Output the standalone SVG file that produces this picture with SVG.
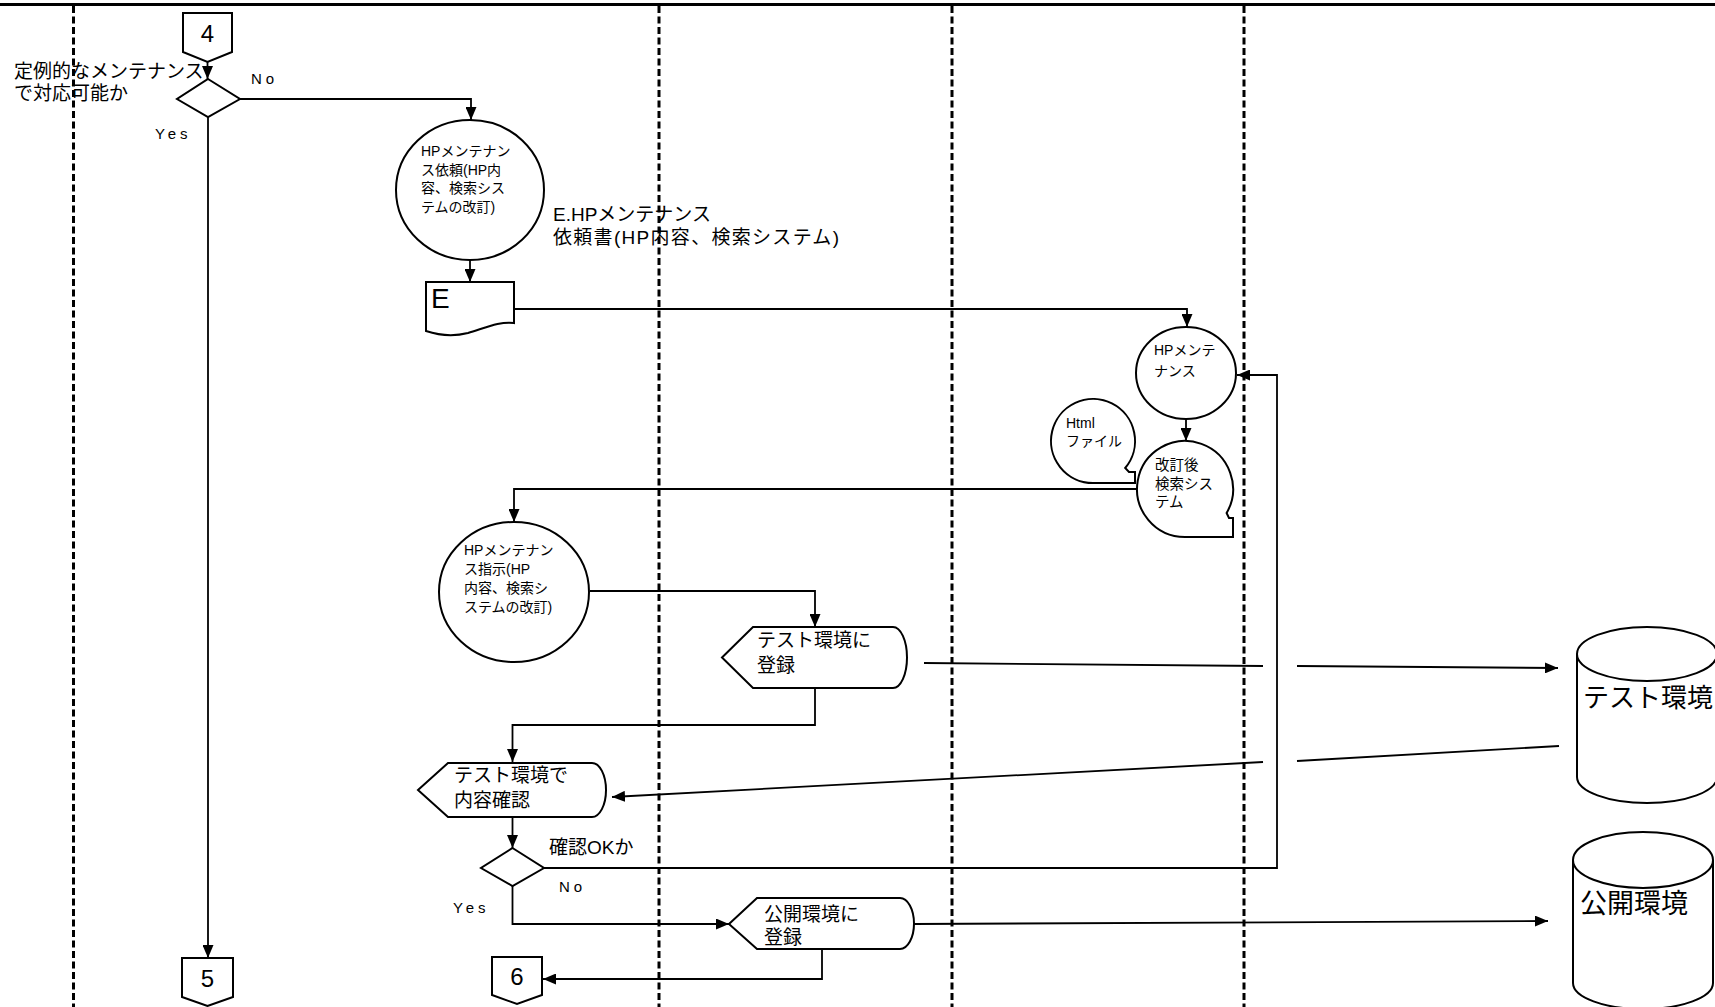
<svg xmlns="http://www.w3.org/2000/svg" width="1715" height="1007" viewBox="0 0 1715 1007">
<style>
.t{font-family:"Liberation Sans","Noto Sans CJK JP",sans-serif;fill:#000}
.s{fill:#fff;stroke:#000;stroke-width:2}
.c{fill:none;stroke:#000;stroke-width:1.8}
.lane{stroke:#000;stroke-width:3;stroke-dasharray:7 3.5}
.yn{font-size:15px;letter-spacing:4px}
</style>
<defs>
<marker id="ah" viewBox="0 0 13 11" refX="13" refY="5.5" markerWidth="13" markerHeight="11" markerUnits="userSpaceOnUse" orient="auto"><path d="M0,0 L13,5.5 L0,11 z" fill="#000"/></marker>
</defs>
<rect width="1715" height="1007" fill="#fff"/>
<g id="lanes">
<line x1="0" y1="4.5" x2="1715" y2="4.5" stroke="#000" stroke-width="3"/>
<line class="lane" x1="73.5" y1="6" x2="73.5" y2="1007"/>
<line class="lane" x1="659" y1="6" x2="659" y2="1007"/>
<line class="lane" x1="952" y1="6" x2="952" y2="1007"/>
<line class="lane" x1="1244" y1="6" x2="1244" y2="1007"/>
</g>
<g id="q1-label">
<text class="t" x="14" y="78" font-size="19">定例的なメンテナンス</text>
<text class="t" x="14" y="100" font-size="19">で対応可能か</text>
</g>
<g id="conn4"><path class="s" d="M183,13 H232 V52 L207.5,62 L183,52 Z"/><text class="t" x="207.5" y="42" font-size="24" text-anchor="middle">4</text></g>
<g id="decision1"><path class="s" d="M208,79 L240,99 L208,117 L177,99 Z"/></g>
<g id="circle1">
<ellipse class="s" cx="470" cy="190" rx="74" ry="70"/>
<text class="t" font-size="14"><tspan x="421" y="156">HPメンテナン</tspan><tspan x="421" y="174.5">ス依頼(HP内</tspan><tspan x="421" y="193">容、検索シス</tspan><tspan x="421" y="211.5">テムの改訂)</tspan></text>
</g>
<g id="docE">
<path class="s" d="M426,282 H514 V323 C500,321 485,328 468,333 C452,337 438,335 426,331 Z"/>
<text class="t" x="431" y="308" font-size="28">E</text>
</g>
<g id="docE-label">
<text class="t" x="553" y="221" font-size="19">E.HPメンテナンス</text>
<text class="t" x="553" y="244" font-size="19" textLength="286" lengthAdjust="spacing">依頼書(HP内容、検索システム)</text>
</g>
<g id="circle2">
<ellipse class="s" cx="1186" cy="373" rx="50" ry="46"/>
<text class="t" font-size="14"><tspan x="1154" y="355">HPメンテ</tspan><tspan x="1154" y="376">ナンス</tspan></text>
</g>
<g id="html-file">
<path class="s" d="M1093,483 A42,42 0 1 1 1125.2,468 L1129,472 L1135,472 L1135,483 Z"/>
<text class="t" font-size="14"><tspan x="1066" y="428">Html</tspan><tspan x="1066" y="446">ファイル</tspan></text>
</g>
<g id="revised-system">
<path class="s" d="M1185,537 A48,48 0 1 1 1226.6,513 L1229,518 L1233,518 L1233,537 Z"/>
<text class="t" font-size="14.5"><tspan x="1155" y="470">改訂後</tspan><tspan x="1155" y="489">検索シス</tspan><tspan x="1155" y="507">テム</tspan></text>
</g>
<g id="circle3">
<ellipse class="s" cx="514" cy="592" rx="75" ry="70"/>
<text class="t" font-size="14"><tspan x="464" y="555">HPメンテナン</tspan><tspan x="464" y="574">ス指示(HP</tspan><tspan x="464" y="593">内容、検索シ</tspan><tspan x="464" y="612">ステムの改訂)</tspan></text>
</g>
<g id="reg-test">
<path class="s" d="M722,657.5 L753,627 H893 A14,30.5 0 0 1 893,688 H753 Z"/>
<text class="t" font-size="19"><tspan x="757" y="647">テスト環境に</tspan><tspan x="757" y="672">登録</tspan></text>
</g>
<g id="check-test">
<path class="s" d="M418,790 L448,763 H592 A14,27 0 0 1 592,817 H448 Z"/>
<text class="t" font-size="19"><tspan x="454" y="782">テスト環境で</tspan><tspan x="454" y="807">内容確認</tspan></text>
</g>
<g id="decision2">
<path class="s" d="M512.5,848 L544,868 L512.5,886 L481,868 Z"/>
<text class="t" x="549" y="854" font-size="19">確認OKか</text>
</g>
<g id="reg-public">
<path class="s" d="M729,924 L757,898 H900 A14,25.5 0 0 1 900,949 H757 Z"/>
<text class="t" font-size="19"><tspan x="764" y="921">公開環境に</tspan><tspan x="764" y="944">登録</tspan></text>
</g>
<g id="conn5"><path class="s" d="M182,958 H233 V997 L207.5,1006 L182,997 Z"/><text class="t" x="207.5" y="987" font-size="24" text-anchor="middle">5</text></g>
<g id="conn6"><path class="s" d="M492,957 H542 V995 L517,1004 L492,995 Z"/><text class="t" x="517" y="985" font-size="24" text-anchor="middle">6</text></g>
<g id="db-test">
<path class="s" d="M1577,654 A70,27 0 0 1 1717,654 V777 A70,26 0 0 1 1577,777 Z"/>
<path class="s" fill="none" d="M1577,654 A70,27 0 0 0 1717,654"/>
<text class="t" x="1583" y="707" font-size="26">テスト環境</text>
</g>
<g id="db-public">
<path class="s" d="M1573,860 A70,28 0 0 1 1713,860 V983 A70,26 0 0 1 1573,983 Z"/>
<path class="s" fill="none" d="M1573,860 A70,28 0 0 0 1713,860"/>
<text class="t" x="1580" y="913" font-size="27">公開環境</text>
</g>
<g id="connectors">
<path class="c" marker-end="url(#ah)" d="M207.5,62 V79"/>
<path class="c" marker-end="url(#ah)" d="M240,99 H471 V120"/>
<path class="c" marker-end="url(#ah)" d="M208,117 V958"/>
<path class="c" marker-end="url(#ah)" d="M470,260 V282"/>
<path class="c" marker-end="url(#ah)" d="M514,309 H1187 V327"/>
<path class="c" marker-end="url(#ah)" d="M1186,419 V441"/>
<path class="c" marker-end="url(#ah)" d="M1137,489 H514 V522"/>
<path class="c" marker-end="url(#ah)" d="M590,591 H815 V627"/>
<path class="c" marker-end="url(#ah)" d="M815,688 V725 H512.5 V762"/>
<path class="c" marker-end="url(#ah)" d="M512.5,817 V848"/>
<path class="c" d="M924,663 L1263,666"/>
<path class="c" marker-end="url(#ah)" d="M1297,666 L1558,668"/>
<path class="c" d="M1559,746 L1297,761"/>
<path class="c" marker-end="url(#ah)" d="M1263,762 L612,797"/>
<path class="c" marker-end="url(#ah)" d="M512.5,886 V924 H729"/>
<path class="c" marker-end="url(#ah)" d="M544,868 H1277 V375 H1237"/>
<path class="c" marker-end="url(#ah)" d="M822,949 V979 H543"/>
<path class="c" marker-end="url(#ah)" d="M914,924 L1548,921"/>
</g>
<g id="yn-labels">
<text class="t yn" x="251" y="84">No</text>
<text class="t yn" x="155" y="139">Yes</text>
<text class="t yn" x="559" y="892">No</text>
<text class="t yn" x="453" y="913">Yes</text>
</g>
</svg>
